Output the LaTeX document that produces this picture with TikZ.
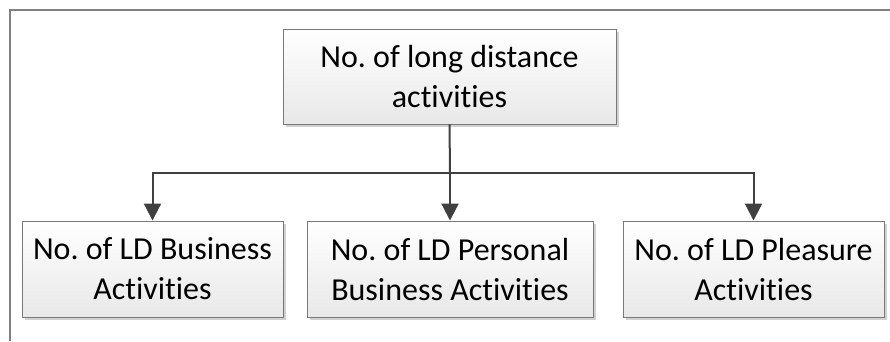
\documentclass[tikz,border=0pt]{standalone}
\usepackage{fontspec}
\setmainfont{Carlito}[RawFeature={-liga}]
\frenchspacing
\usetikzlibrary{arrows.meta,shadows}
\definecolor{framegray}{RGB}{128,128,128}
\definecolor{boxborder}{RGB}{120,120,120}
\definecolor{conncol}{RGB}{64,64,64}
\begin{document}
\begin{tikzpicture}[x=1pt,y=-1pt,
  box/.style={rectangle, draw=boxborder, line width=0.9pt,
    top color=white, bottom color=black!9,
    drop shadow={shadow xshift=3pt, shadow yshift=-3pt, fill=black!18, opacity=1},
    align=center, inner sep=0pt,
    font=\fontsize{32}{40}\selectfont},
  conn/.style={draw=conncol, line width=2pt},
  arr/.style={conn, -{Triangle[length=17pt,width=17pt]}}
]
\useasboundingbox (0,0) rectangle (890,341);
% outer frame
\draw[framegray, line width=1.2pt] (10,341) -- (10,10) -- (890,10);
% nodes
\node[box, minimum width=333pt, minimum height=95pt] (top) at (449.5,76.5) {No. of long distance\\activities};
\node[box, minimum width=261pt, minimum height=96pt] (left) at (152.5,269) {No. of LD Business\\Activities};
\node[box, minimum width=286pt, minimum height=96pt] (mid) at (450,269) {No. of LD Personal\\Business Activities};
\node[box, minimum width=261pt, minimum height=96pt] (right) at (753.5,269) {No. of LD Pleasure\\Activities};
% connectors
\coordinate (j) at (450,173);
\draw[conn] (top.south) -- (j);
\draw[arr] (j) -- (mid.north);
\draw[arr] (j) -| (left.north);
\draw[arr] (j) -| (right.north);
\end{tikzpicture}
\end{document}
